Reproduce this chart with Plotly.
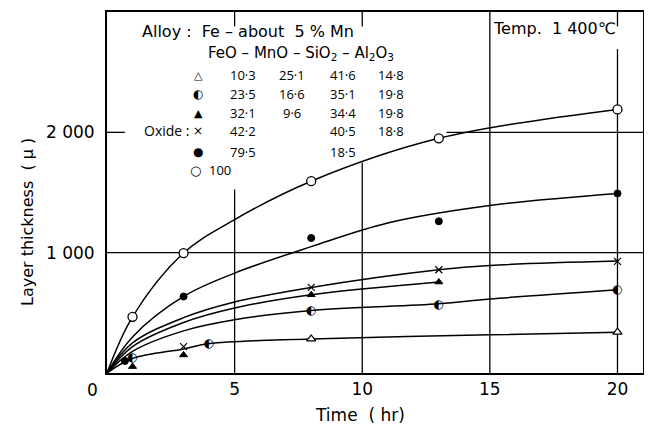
import plotly.graph_objects as go

# ---------------- data ----------------
# measured points: time (hr) and layer thickness (micron)
t_o = [1, 3, 8, 13, 20]            # FeO 100
y_o = [467, 997, 1594, 1950, 2190]
t_dot = [0.7, 3, 8, 13, 20]        # FeO 79.5
y_dot = [100, 636, 1122, 1261, 1492]
t_x = [3, 8, 13, 20]               # FeO 42.2
y_x = [219, 711, 858, 928]
t_tri_f = [1, 3, 8, 13]            # FeO 32.1
y_tri_f = [53, 150, 650, 756]
t_half = [1, 4, 8, 13, 20]         # FeO 23.5
y_half = [125, 245, 519, 567, 692]
t_tri_o = [8, 20]                  # FeO 10.3
y_tri_o = [283, 339]

# smooth fitted curves (knots)
ct_o = [0, 1, 3, 5, 8, 13, 20]
cy_o = [0, 467, 997, 1275, 1594, 1950, 2190]
ct_dot = [0, 1, 3, 5, 8, 11, 15, 20]
cy_dot = [0, 300, 636, 830, 1050, 1247, 1392, 1492]
ct_x = [0, 1, 3, 5, 8, 13, 15, 20]
cy_x = [0, 250, 460, 590, 711, 858, 894, 930]
ct_tri_f = [0, 1, 3, 5, 8, 13]
cy_tri_f = [0, 220, 420, 540, 650, 756]
ct_half = [0, 1, 3, 5, 8, 13, 15, 20]
cy_half = [0, 180, 350, 442, 519, 575, 615, 692]
ct_tri_o = [0, 1, 3, 4, 8, 15, 20]
cy_tri_o = [0, 120, 200, 245, 283, 317, 339]

x_ticks = [5, 10, 15, 20]
x_ticktext = ["5", "10", "15", "20"]
y_ticks = [1000, 2000]
y_ticktext = ["1 000", "2 000"]

legend_header = "FeO – MnO – SiO<sub>2</sub> – Al<sub>2</sub>O<sub>3</sub>"
legend_syms = ["△", "◐", "▲", "×", "●", "○"]
legend_rows = [
    ["10·3", "25·1", "41·6", "14·8"],
    ["23·5", "16·6", "35·1", "19·8"],
    ["32·1", "9·6", "34·4", "19·8"],
    ["42·2", "", "40·5", "18·8"],
    ["79·5", "", "18·5", ""],
    ["100", "", "", ""],
]

FONT = "DejaVu Sans"
NUMF = "Open Sans, DejaVu Sans"
SYMF = "DejaVu Sans"

fig = go.Figure()

curve_sets = [(ct_o, cy_o), (ct_dot, cy_dot), (ct_x, cy_x),
              (ct_tri_f, cy_tri_f), (ct_half, cy_half), (ct_tri_o, cy_tri_o)]
for cx, cy in curve_sets:
    fig.add_trace(go.Scatter(x=cx, y=cy, mode="lines",
                             line=dict(color="black", width=1.5, shape="spline", smoothing=1.0),
                             hoverinfo="skip", showlegend=False))

def pts(tx, ty, symbol, size, fill="black", lw=1.3):
    fig.add_trace(go.Scatter(x=tx, y=ty, mode="markers", showlegend=False,
                             marker=dict(symbol=symbol, size=size, color=fill,
                                         line=dict(color="black", width=lw))))

pts(t_o, y_o, "circle", 9, fill="white")
pts(t_dot, y_dot, "circle", 7, fill="black", lw=1)
pts(t_x, y_x, "x-thin-open", 7, lw=1.2)
pts(t_tri_f, y_tri_f, "triangle-up", 7, fill="black", lw=1)
pts(t_tri_o, y_tri_o, "triangle-up", 8, fill="white")
fig.add_trace(go.Scatter(x=t_half, y=y_half, mode="text", text=["◐"] * len(t_half),
                         textposition="middle center", showlegend=False,
                         textfont=dict(family=SYMF, size=12, color="black")))

# grid segments (partially hidden behind the legend text in the original)
shapes = []
def seg(x0, y0, x1, y1):
    shapes.append(dict(type="line", xref="x", yref="y", x0=x0, y0=y0, x1=x1, y1=y1,
                       line=dict(color="black", width=1.3), layer="below"))
seg(0, 1000, 21, 1000)
seg(13.3, 2000, 21, 2000)
seg(0, 2000, 0.7, 2000)
seg(5, 0, 5, 1525); seg(5, 2880, 5, 3000)
seg(10, 0, 10, 1750); seg(10, 2880, 10, 3000)
seg(15, 0, 15, 3000)
seg(20, 0, 20, 2690); seg(20, 2880, 20, 3000)

# plot area in window pixels (the page body adds an 8px offset)
OFF = 8
L, R, T, B = 107, 643, 12, 373
W, H = 652 - OFF, 427 - OFF
def px(x):
    return (x - L) / (R - L)
def py(y):
    return (B - y) / (B - T)

ann = []
def txt(x, y, s, size=14, xanchor="left", family=FONT, **kw):
    ann.append(dict(x=px(x), y=py(y), xref="paper", yref="paper", text=s, showarrow=False,
                    xanchor=xanchor, yanchor="middle", font=dict(family=family, size=size, color="black"), **kw))

txt(140, 31, "Alloy :  Fe – about  5 % Mn", size=16)
txt(206, 53, legend_header, size=15)
txt(491, 28, "Temp.  1 400℃", size=16)
txt(142, 130, "Oxide :", size=14, family=NUMF)
row_y = [75, 94, 113, 131, 152, 170]
col_x = [243, 292, 343, 391]
for i, (sym, row) in enumerate(zip(legend_syms, legend_rows)):
    ssize = 11 if sym in ("△", "▲") else (12 if sym != "○" else 13)
    if i == 5:
        txt(195, row_y[i], sym, size=ssize, xanchor="center", family=SYMF)
        txt(207, row_y[i], row[0], size=13, family=NUMF)
        continue
    txt(198, row_y[i], sym, size=ssize, xanchor="center", family=SYMF)
    for j, v in enumerate(row):
        if v:
            txt(col_x[j], row_y[i], v, size=13, xanchor="center", family=NUMF)

txt(92, 390, "0", size=17, xanchor="center")
txt(360, 415, "Time  ( hr)", size=17, xanchor="center")
ann.append(dict(x=px(27), y=py(222), xref="paper", yref="paper", text="Layer thickness  ( μ )",
                showarrow=False, textangle=-90, xanchor="center", yanchor="middle",
                font=dict(family=FONT, size=16, color="black")))

fig.update_layout(
    width=W, height=H,
    margin=dict(l=L - OFF, r=W - (R - OFF), t=T - OFF, b=H - (B - OFF), autoexpand=False),
    paper_bgcolor="white", plot_bgcolor="white",
    shapes=shapes, annotations=ann, showlegend=False,
    xaxis=dict(range=[0, 21], tickvals=x_ticks, ticktext=x_ticktext, showgrid=False,
               zeroline=False, showline=True, mirror=True, linecolor="black", linewidth=1.8,
               ticks="", tickfont=dict(family=FONT, size=17, color="black")),
    yaxis=dict(range=[0, 3000], tickvals=y_ticks, ticktext=y_ticktext, showgrid=False,
               zeroline=False, showline=True, mirror=True, linecolor="black", linewidth=1.8,
               ticks="", ticklabelstandoff=7, tickfont=dict(family=FONT, size=17, color="black")),
)

fig.write_html("out.html")
